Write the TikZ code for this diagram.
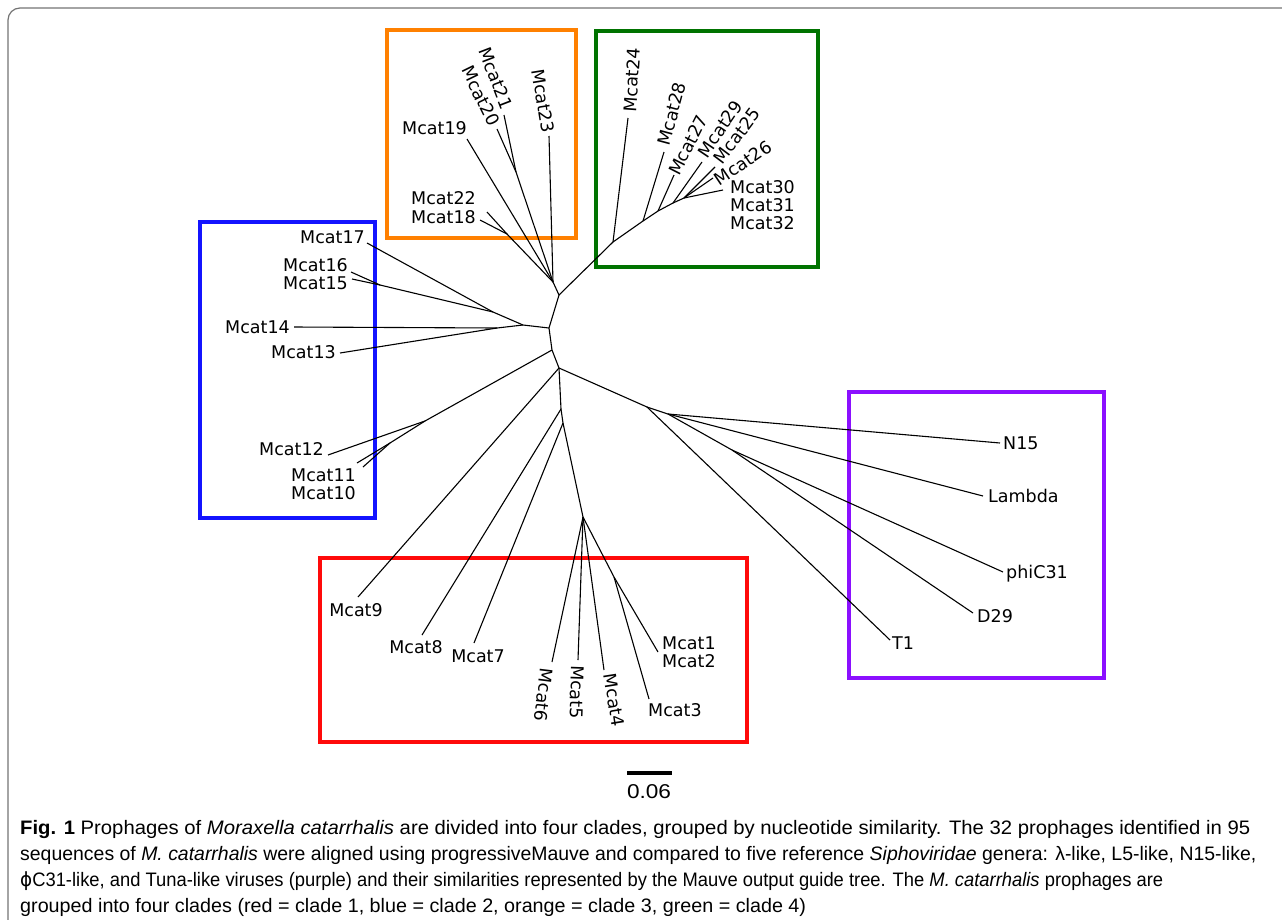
\documentclass[tikz,border=0pt]{standalone}
\usepackage{fontspec}
\setmainfont{Liberation Sans}
\newfontfamily\leaffont{DejaVu Sans}
\newfontfamily\symfont{DejaVu Sans}
\definecolor{cladeorange}{RGB}{255,128,0}
\definecolor{cladegreen}{RGB}{0,115,0}
\definecolor{cladeblue}{RGB}{20,20,255}
\definecolor{cladered}{RGB}{255,10,10}
\definecolor{cladepurple}{RGB}{139,16,255}
\tikzset{branch/.style={line width=1.1pt},
         leaf/.style={font=\leaffont\fontsize{17.5}{20}\selectfont, inner sep=0pt},
         clade/.style={line width=4pt},
         capline/.style={font=\fontsize{19.5}{22}\selectfont, anchor=base west, inner sep=0pt},
        }

\begin{document}
\begin{tikzpicture}[x=1pt,y=-1pt]
        \useasboundingbox (0,0) rectangle (1282,919);
        \draw[black!55, line width=1.2pt, rounded corners=12pt](8,930)--(8,8)--(1290,8);
        % clade boxes
        \draw[clade, cladeorange](387,30)rectangle(576,238);
        \draw[clade, cladegreen](596,31)rectangle(818,267);
        \draw[clade, cladeblue](200,222)rectangle(375,518);
        \draw[clade, cladered](320,558)rectangle(747,742);
        \draw[clade, cladepurple](849,392)rectangle(1104,678);
        % internal nodes of the tree
        \coordinate(a)at(559,295);
        \coordinate(b)at(549,328);
        \coordinate(c)at(552,350);
        \coordinate(d)at(559,368);
        \coordinate(e)at(561,409);
        \coordinate(f)at(563,423);
        \coordinate(g)at(583,517);
        \coordinate(o1)at(553,282);
        \coordinate(o2)at(516,172);
        \coordinate(o3)at(507,234);
        \coordinate(g1)at(613,242);
        \coordinate(g2)at(643,221);
        \coordinate(g3)at(658,211);
        \coordinate(g4)at(673,203);
        \coordinate(g5)at(684,198);
        \coordinate(b1)at(523,325);
        \coordinate(b2)at(493,312);
        \coordinate(b3)at(380,285);
        \coordinate(b4)at(497,328);
        \coordinate(c1)at(425,421);
        \coordinate(c2)at(390,443);
        \coordinate(r1)at(614,577);
        \coordinate(p1)at(647,407);
        \coordinate(p2)at(668,414);
        \coordinate(p3)at(732,450);
        % tips
        \coordinate(t23)at(549,136);
        \coordinate(t19)at(467,139);
        \coordinate(t21)at(504,115);
        \coordinate(t20)at(497,129);
        \coordinate(t22)at(487,212);
        \coordinate(t18)at(480,220);
        \coordinate(t24)at(628,118);
        \coordinate(t28)at(664,152);
        \coordinate(t27)at(674,175);
        \coordinate(t29)at(702,162);
        \coordinate(t25)at(715,167);
        \coordinate(t26)at(713,178);
        \coordinate(t30)at(723,190);
        \coordinate(t17)at(367,243);
        \coordinate(t16)at(351,272);
        \coordinate(t15)at(352,279);
        \coordinate(t14)at(294,327);
        \coordinate(t13)at(340,353);
        \coordinate(t12)at(328,455);
        \coordinate(t11)at(357,463);
        \coordinate(t10)at(363,467);
        \coordinate(t9)at(358,597);
        \coordinate(t8)at(422,635);
        \coordinate(t7)at(474,643);
        \coordinate(t6)at(552,662);
        \coordinate(t5)at(578,660);
        \coordinate(t4)at(604,670);
        \coordinate(t3)at(649,699);
        \coordinate(t1)at(658,652);
        \coordinate(tn)at(1000,443);
        \coordinate(tl)at(983,496);
        \coordinate(tp)at(1003,572);
        \coordinate(td)at(973,613);
        \coordinate(tt)at(890,640);
        % branches
        \draw[branch](a)--(b)--(c)--(d)--(e)--(f)--(g);
        \draw[branch](a)--(o1)--(t23);
        \draw[branch](o1)--(t19);
        \draw[branch](o1)--(o2)--(t21);
        \draw[branch](o2)--(t20);
        \draw[branch](o1)--(o3)--(t22);
        \draw[branch](o3)--(t18);
        \draw[branch](a)--(g1)--(g2)--(g3)--(g4)--(g5)--(t30);
        \draw[branch](g1)--(t24);
        \draw[branch](g2)--(t28);
        \draw[branch](g3)--(t27);
        \draw[branch](g4)--(t29);
        \draw[branch](g5)--(t25);
        \draw[branch](g5)--(t26);
        \draw[branch](b)--(b1)--(b2)--(t17);
        \draw[branch](b2)--(b3)--(t16);
        \draw[branch](b3)--(t15);
        \draw[branch](b1)--(b4)--(t14);
        \draw[branch](b4)--(t13);
        \draw[branch](c)--(c1)--(t12);
        \draw[branch](c1)--(c2)--(t11);
        \draw[branch](c2)--(t10);
        \draw[branch](d)--(t9);
        \draw[branch](e)--(t8);
        \draw[branch](f)--(t7);
        \draw[branch](g)--(t6);
        \draw[branch](g)--(t5);
        \draw[branch](g)--(t4);
        \draw[branch](g)--(r1)--(t1);
        \draw[branch](r1)--(t3);
        \draw[branch](d)--(p1)--(tt);
        \draw[branch](p1)--(p2)--(tn);
        \draw[branch](p2)--(tl);
        \draw[branch](p2)--(p3)--(tp);
        \draw[branch](p3)--(td);
        % leaf labels
        \node[leaf, anchor=east](l19)at(467,128){Mcat19};
        \node[leaf, rotate=-69](l21)at(496,78){Mcat21};
        \node[leaf, rotate=-64](l20)at(481,96){Mcat20};
        \node[leaf, rotate=-81](l23)at(543,101){Mcat23};
        \node[leaf, anchor=east](l22)at(476,198){Mcat22};
        \node[leaf, anchor=east](l18)at(476,217){Mcat18};
        \node[leaf, rotate=86](l24)at(632,80){Mcat24};
        \node[leaf, rotate=75](l28)at(672,114){Mcat28};
        \node[leaf, rotate=63](l27)at(688,145){Mcat27};
        \node[leaf, rotate=56](l29)at(720,129){Mcat29};
        \node[leaf, rotate=53](l25)at(737,136){Mcat25};
        \node[leaf, rotate=34](l26)at(743,163){Mcat26};
        \node[leaf, anchor=west](l30)at(730,187){Mcat30};
        \node[leaf, anchor=west](l31)at(730,205){Mcat31};
        \node[leaf, anchor=west](l32)at(730,223){Mcat32};
        \node[leaf, anchor=east](l17)at(365,237){Mcat17};
        \node[leaf, anchor=east](l16)at(348,265){Mcat16};
        \node[leaf, anchor=east](l15)at(348,283){Mcat15};
        \node[leaf, anchor=east](l14)at(290,327){Mcat14};
        \node[leaf, anchor=east](l13)at(336,352){Mcat13};
        \node[leaf, anchor=east](l12)at(324,449){Mcat12};
        \node[leaf, anchor=west](l11)at(291,475){Mcat11};
        \node[leaf, anchor=west](l10)at(291,493){Mcat10};
        \node[leaf](l9)at(356,610){Mcat9};
        \node[leaf](l8)at(416,647){Mcat8};
        \node[leaf](l7)at(478,656){Mcat7};
        \node[leaf, rotate=-97](l6)at(544,695){Mcat6};
        \node[leaf, rotate=-92](l5)at(577,692){Mcat5};
        \node[leaf, rotate=-81](l4)at(614,700){Mcat4};
        \node[leaf, anchor=west](l3)at(648,710){Mcat3};
        \node[leaf, anchor=west](l1)at(662,643){Mcat1};
        \node[leaf, anchor=west](l2)at(662,661){Mcat2};
        \node[leaf, anchor=west](ln)at(1003,443){N15};
        \node[leaf, anchor=west](ll)at(988,496){Lambda};
        \node[leaf, anchor=west](lp)at(1006,574){phiC31};
        \node[leaf, anchor=west](ld)at(977,616){D29};
        \node[leaf, anchor=west](lt)at(892,643){T1};
        % scale bar
        \coordinate(s0)at(627,773);
        \coordinate(s1)at(672,773);
        \draw[line width=4pt](s0)--(s1);
        \node[font=\fontsize{20}{22}\selectfont](sc)at(649,792){\resizebox{44pt}{\height}{0.06}};
        % caption
        \node[capline](cap1)at(20,834){\resizebox{1230pt}{\height}{\textbf{Fig. 1} Prophages of \textit{Moraxella catarrhalis} are divided into four clades, grouped by nucleotide similarity. The 32 prophages identified in 95}};
        \node[capline](cap2)at(20,860){\resizebox{1236pt}{\height}{sequences of \textit{M. catarrhalis} were aligned using progressiveMauve and compared to five reference \textit{Siphoviridae} genera: λ-like, L5-like, N15-like,}};
        \node[capline](cap3)at(20,886){\resizebox{1143pt}{\height}{{\symfont ϕ}C31-like, and Tuna-like viruses (purple) and their similarities represented by the Mauve output guide tree. The \textit{M. catarrhalis} prophages are}};
        \node[capline](cap4)at(20,912){\resizebox{786pt}{\height}{grouped into four clades (red = clade 1, blue = clade 2, orange = clade 3, green = clade 4)}};
    \end{tikzpicture}
\end{document}
